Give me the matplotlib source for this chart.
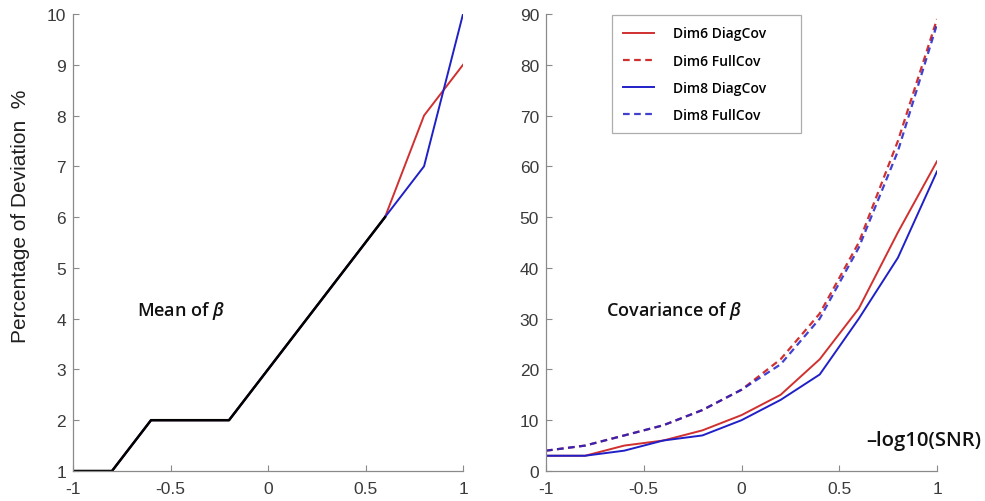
import matplotlib
matplotlib.use("Agg")
import matplotlib.pyplot as plt

plt.rcParams["mathtext.fontset"] = "custom"
plt.rcParams["mathtext.it"] = "Open Sans:italic:semibold"
plt.rcParams["mathtext.rm"] = "Open Sans:semibold"

x = [-1, -0.8, -0.6, -0.4, -0.2, 0, 0.2, 0.4, 0.6, 0.8, 1]

# Left panel: mean of beta
mean_dim6 = [1, 1, 2, 2, 2, 3, 4, 5, 6, 8, 9]
mean_dim8 = [1, 1, 2, 2, 2, 3, 4, 5, 6, 7, 10]
mean_common_x = [-1, -0.8, -0.6, -0.4, -0.2, 0, 0.2, 0.4, 0.6]
mean_common = [1, 1, 2, 2, 2, 3, 4, 5, 6]

# Right panel: covariance of beta
cov_dim6_diag = [3, 3, 5, 6, 8, 11, 15, 22, 32, 47, 61]
cov_dim6_full = [4, 5, 7, 9, 12, 16, 22, 31, 45, 65, 89]
cov_dim8_diag = [3, 3, 4, 6, 7, 10, 14, 19, 30, 42, 59]
cov_dim8_full = [4, 5, 7, 9, 12, 16, 21, 30, 44, 63, 88]

xticks = [-1, -0.5, 0, 0.5, 1]
xticklabels = ["-1", "-0.5", "0", "0.5", "1"]
left_yticks = list(range(1, 11))
right_yticks = list(range(0, 91, 10))

RED = "#d03030"
BLUE = "#2020c8"
SPINE = "#8a8a8a"
TICKTXT = "#3a3a3a"
FONT_TICK = "Liberation Sans"
FONT_TXT = "Open Sans"

fig = plt.figure(figsize=(9.85, 5.02), dpi=100)
axL = fig.add_axes([0.0741, 0.0598, 0.396, 0.9104])
axR = fig.add_axes([0.5543, 0.0598, 0.397, 0.9104])

def style(ax):
    for s in ["top", "right"]:
        ax.spines[s].set_visible(False)
    for s in ["left", "bottom"]:
        ax.spines[s].set_color(SPINE)
        ax.spines[s].set_linewidth(0.9)
    ax.tick_params(direction="in", length=4, width=0.8, color=SPINE,
                   labelsize=12.5, labelcolor=TICKTXT)
    ax.tick_params(axis="x", pad=7)
    ax.tick_params(axis="y", pad=5)
    ax.set_xlim(-1, 1)
    ax.set_xticks(xticks)
    ax.set_xticklabels(xticklabels, fontfamily=FONT_TICK)

# Left
axL.plot(x, mean_dim6, color=RED, lw=1.4)
axL.plot(x, mean_dim8, color=BLUE, lw=1.4)
axL.plot(mean_common_x, mean_common, color="black", lw=1.8)
axL.set_ylim(1, 10)
axL.set_yticks(left_yticks)
axL.set_yticklabels([str(v) for v in left_yticks], fontfamily=FONT_TICK)
style(axL)
axL.set_ylabel("Percentage of Deviation  %", fontsize=15, color="#202020",
               fontfamily=FONT_TICK)
axL.yaxis.set_label_coords(-0.11, 0.559)
axL.text(-0.672, 4.17, r"Mean of $\beta$", fontsize=13, fontfamily=FONT_TXT,
         fontweight="semibold", ha="left", va="center", color="#111111")

# Right
axR.plot(x, cov_dim6_diag, color=RED, lw=1.4, label="Dim6 DiagCov")
axR.plot(x, cov_dim6_full, color=RED, lw=1.6, ls=(0, (3, 2)), label="Dim6 FullCov")
axR.plot(x, cov_dim8_diag, color=BLUE, lw=1.4, label="Dim8 DiagCov")
axR.plot(x, cov_dim8_full, color=BLUE, lw=1.6, ls=(0, (3, 2)), label="Dim8 FullCov", alpha=0.85)
axR.set_ylim(0, 90)
axR.set_yticks(right_yticks)
axR.set_yticklabels([str(v) for v in right_yticks], fontfamily=FONT_TICK)
style(axR)
axR.text(-0.693, 31.7, r"Covariance of $\beta$", fontsize=13, fontfamily=FONT_TXT,
         fontweight="semibold", ha="left", va="center", color="#111111")
leg = axR.legend(loc="upper left", bbox_to_anchor=(0.1688, 0.0, 0.483, 0.997),
                 mode="expand", frameon=True,
                 fancybox=False, edgecolor="#999999",
                 prop={"family": FONT_TXT, "size": 10, "weight": "semibold"},
                 handlelength=2.2, handletextpad=1.4, labelspacing=0.95,
                 borderpad=0.8, borderaxespad=0)
leg.get_frame().set_linewidth(0.9)

fig.text(0.879, 0.1215, "\u2013log10(SNR)", fontsize=14.6, fontfamily=FONT_TXT,
         fontweight="semibold", ha="left", va="center", color="#111111")

fig.savefig("out.png", dpi=100)
